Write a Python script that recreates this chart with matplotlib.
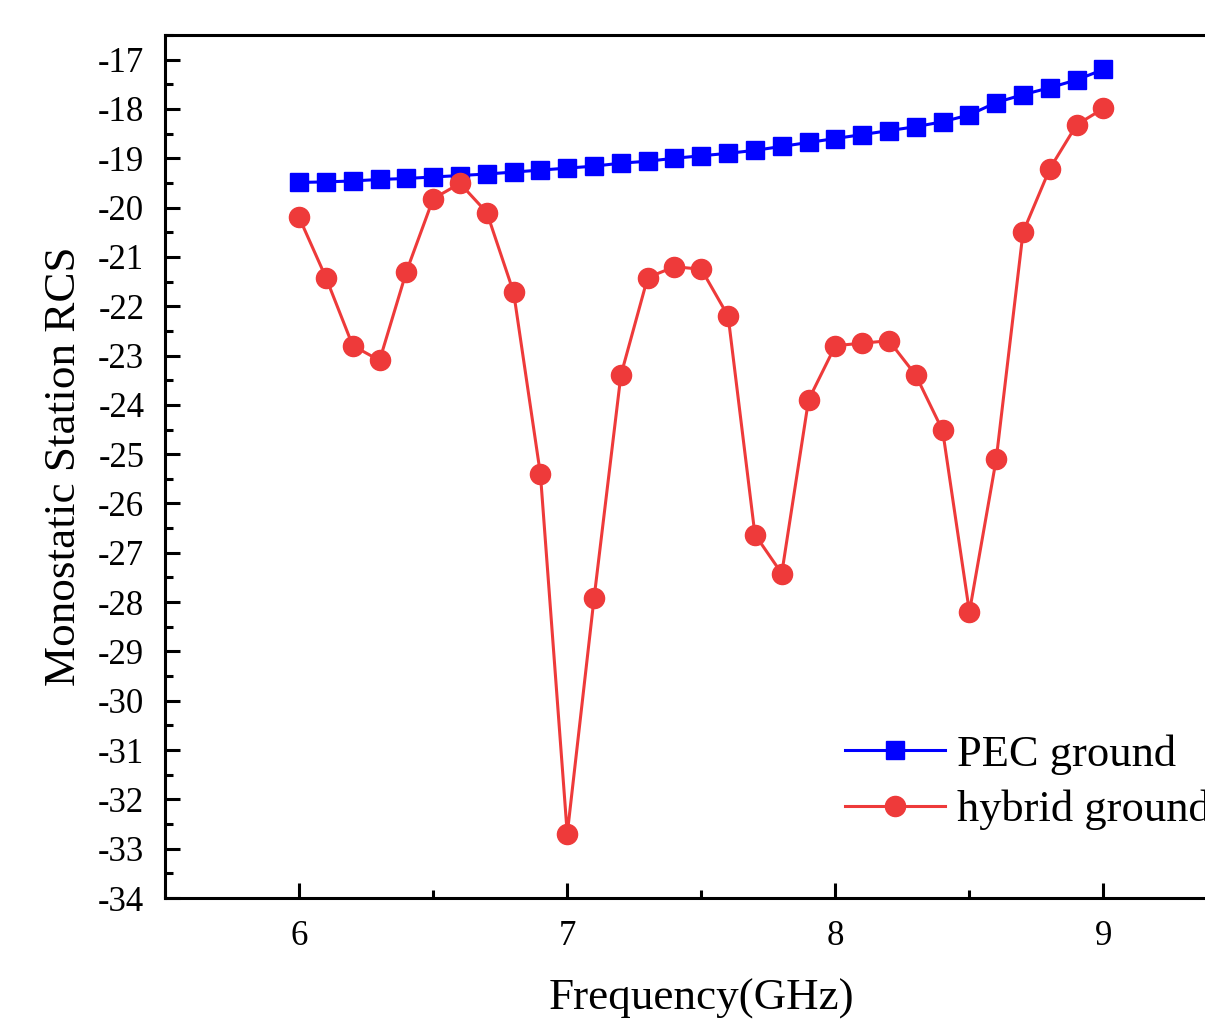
import matplotlib
matplotlib.use('Agg')
import matplotlib.pyplot as plt
from matplotlib.ticker import MultipleLocator

freq = [6.0, 6.1, 6.2, 6.3, 6.4, 6.5, 6.6, 6.7, 6.8, 6.9,
        7.0, 7.1, 7.2, 7.3, 7.4, 7.5, 7.6, 7.7, 7.8, 7.9,
        8.0, 8.1, 8.2, 8.3, 8.4, 8.5, 8.6, 8.7, 8.8, 8.9, 9.0]

pec_ground = [-19.49, -19.48, -19.46, -19.43, -19.41, -19.38, -19.35, -19.32, -19.28, -19.24,
              -19.20, -19.16, -19.10, -19.06, -19.00, -18.95, -18.90, -18.84, -18.76, -18.68,
              -18.60, -18.52, -18.44, -18.36, -18.26, -18.12, -17.87, -17.71, -17.57, -17.41, -17.20]

hybrid_ground = [-20.20, -21.42, -22.80, -23.10, -21.30, -19.82, -19.51, -20.10, -21.72, -25.41,
                 -32.70, -27.92, -23.40, -21.42, -21.20, -21.25, -22.20, -26.63, -27.42, -23.90,
                 -22.80, -22.75, -22.70, -23.40, -24.52, -28.20, -25.10, -20.50, -19.21, -18.32, -17.99]

plt.rcParams['font.family'] = ['Liberation Serif', 'DejaVu Serif']
plt.rcParams['axes.unicode_minus'] = False

fig = plt.figure(figsize=(12.05, 10.22), dpi=100)
ax = fig.add_axes([0.137, 0.1213, 0.890, 0.8445])

ax.plot(freq, pec_ground, color='#0000FF', lw=2.2, marker='s', markersize=13,
        label='PEC ground')
ax.plot(freq, hybrid_ground, color='#EE3A3A', lw=2.2, marker='o', markersize=14.5,
        label='hybrid ground')

ax.set_xlim(5.5, 9.5)
ax.set_ylim(-34, -16.5)
ax.xaxis.set_major_locator(MultipleLocator(1))
ax.xaxis.set_minor_locator(MultipleLocator(0.5))
ax.yaxis.set_major_locator(MultipleLocator(1))
ax.yaxis.set_minor_locator(MultipleLocator(0.5))

for s in ax.spines.values():
    s.set_linewidth(2.2)
ax.tick_params(which='major', direction='in', length=11, width=2.2, labelsize=25, pad=15)
ax.tick_params(which='minor', direction='in', length=6, width=2.2)
ax.tick_params(axis='x', pad=16)

ax.set_xlabel('Frequency(GHz)', fontsize=32.5, labelpad=18)
ax.set_ylabel('Monostatic Station RCS', fontsize=32.5, labelpad=10)

ax.legend(loc='lower left', bbox_to_anchor=(0.617, 0.058), frameon=False, fontsize=32,
          handlelength=2.25, handletextpad=0.27, labelspacing=0.33, borderaxespad=0)

fig.savefig('out.png', dpi=100)
